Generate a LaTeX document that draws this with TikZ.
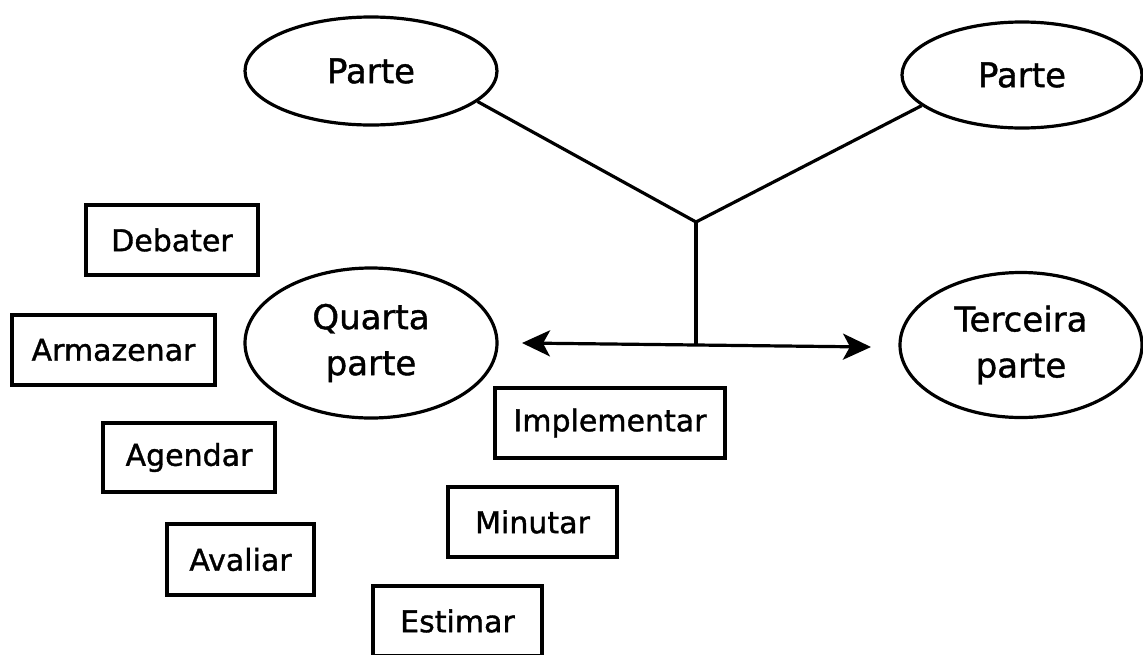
\documentclass[tikz,border=0pt]{standalone}
\usepackage{fontspec}
\setmainfont{DejaVu Sans}[FakeBold=1.2]
\usetikzlibrary{arrows.meta,shapes.geometric}
\tikzset{
  lbl/.style={font=\fontsize{30}{46}\selectfont, align=center, inner sep=0pt},
  boxn/.style={lbl, draw, line width=3.2pt, rectangle},
  elln/.style={lbl, font=\fontsize{34}{46}\selectfont, draw, line width=3.2pt, ellipse},
  conn/.style={line width=3.2pt},
  dbl/.style={line width=3.2pt, {Stealth[length=28pt,width=26pt,inset=7pt]}-{Stealth[length=28pt,width=26pt,inset=7pt]}}
}
\begin{document}
\begin{tikzpicture}[x=1pt,y=-1pt]
\useasboundingbox (0,0) rectangle (1143,654);
% ellipses
\node[elln, minimum width=252pt, minimum height=108pt] (pl) at (371,71) {Parte};
\node[elln, minimum width=240pt, minimum height=106pt] (pr) at (1022,75) {Parte};
\node[elln, minimum width=252pt, minimum height=150pt] (qp) at (371,343) {Quarta\\parte};
\node[elln, minimum width=242pt, minimum height=145pt] (tp) at (1021,345) {Terceira\\parte};
% boxes
\node[boxn, minimum width=172pt, minimum height=70pt] (deb) at (172,240) {Debater};
\node[boxn, minimum width=203pt, minimum height=70pt] (arm) at (113.5,350) {Armazenar};
\node[boxn, minimum width=172pt, minimum height=69pt] (age) at (189,457.5) {Agendar};
\node[boxn, minimum width=147pt, minimum height=71pt] (ava) at (240.5,559.5) {Avaliar};
\node[boxn, minimum width=230pt, minimum height=70pt] (imp) at (610,423) {Implementar};
\node[boxn, minimum width=169pt, minimum height=70pt] (min) at (532.5,522) {Minutar};
\node[boxn, minimum width=169pt, minimum height=70pt] (est) at (457.5,621) {Estimar};
% connectors
\coordinate (J) at (696,222);
\coordinate (K) at (696,345);
\coordinate (aL) at (522,343);
\coordinate (aR) at (871,347);
\draw[conn] (pl.-16) -- (J);
\draw[conn] (pr.197) -- (J);
\draw[conn] (J) -- (K);
\draw[dbl] (aL) -- (aR);
\end{tikzpicture}
\end{document}
